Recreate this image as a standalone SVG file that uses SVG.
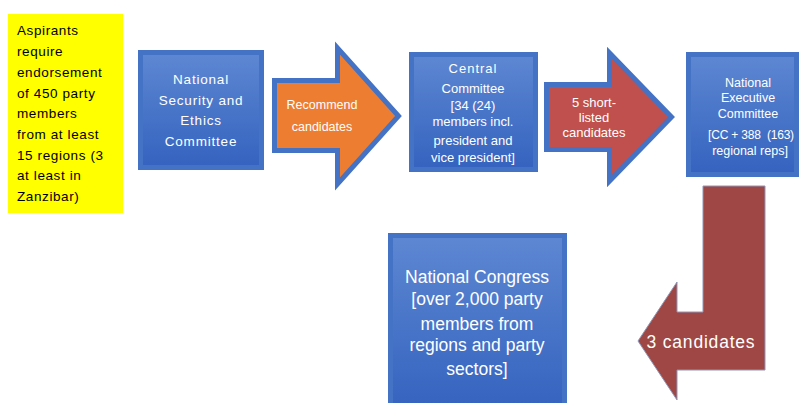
<svg xmlns="http://www.w3.org/2000/svg" width="803" height="403" viewBox="0 0 803 403">
<defs>
<linearGradient id="bg" x1="0" y1="0" x2="0" y2="1">
<stop offset="0" stop-color="#5D87D2"/>
<stop offset="1" stop-color="#3563BF"/>
</linearGradient>
<style>
.box{fill:#4472C4}
.inner{fill:url(#bg)}
.t{font-family:"Liberation Sans",Arial,sans-serif;fill:#fff;text-anchor:middle}
.y{font-family:"Liberation Sans",Arial,sans-serif;fill:#000;font-size:13.5px;letter-spacing:0.6px}
.arr{stroke:#4472C4;stroke-width:5;stroke-linejoin:miter}
</style>
</defs>
<rect width="803" height="403" fill="#fff"/>
<g id="aspirants">
<rect x="8" y="14" width="115" height="199" fill="#FFFF00"/>
<text class="y" x="17" y="35">Aspirants</text>
<text class="y" x="17" y="56">require</text>
<text class="y" x="17" y="77">endorsement</text>
<text class="y" x="17" y="98">of 450 party</text>
<text class="y" x="17" y="118">members</text>
<text class="y" x="17" y="139">from at least</text>
<text class="y" x="17" y="160">15 regions (3</text>
<text class="y" x="17" y="180">at least in</text>
<text class="y" x="17" y="201">Zanzibar)</text>
</g>
<g id="nsec">
<rect class="box" x="138" y="50" width="126" height="120"/>
<rect class="inner" x="143" y="55" width="116" height="110"/>
<g class="t" font-size="13.5" letter-spacing="0.8">
<text x="201" y="84">National</text>
<text x="201" y="105">Security and</text>
<text x="201" y="125">Ethics</text>
<text x="201" y="146">Committee</text>
</g>
</g>
<g id="connectors">
<g id="recommend">
<path class="arr" fill="#ED7D31" d="M274.5,80.5 L337.5,80.5 L337.5,48 L398.5,116 L337.5,184 L337.5,150.5 L274.5,150.5 Z"/>
<g class="t" font-size="12.5">
<text x="322" y="109">Recommend</text>
<text x="322" y="131">candidates</text>
</g>
</g>
<g id="shortlist">
<path class="arr" fill="#C0504D" d="M546.5,84.5 L609.5,84.5 L609.5,53 L671.5,117 L609.5,181 L609.5,149.5 L546.5,149.5 Z"/>
<g class="t" font-size="13">
<text x="594" y="107">5 short-</text>
<text x="594" y="122">listed</text>
<text x="594" y="137">candidates</text>
</g>
</g>
<g id="three">
<path fill="#9E4744" stroke="#8E96B8" stroke-width="1" d="M703,186 L765,186 L765,370 L677,370 L677,400 L638,341 L677,282 L677,312 L703,312 Z"/>
<text class="t" x="701" y="348" font-size="17.5" letter-spacing="0.8">3 candidates</text>
</g>
</g>
<g id="central">
<rect class="box" x="409" y="52" width="129" height="120"/>
<rect class="inner" x="414" y="57" width="119" height="110"/>
<g class="t" font-size="13">
<text x="473" y="73" letter-spacing="1">Central</text>
<text x="473" y="93">Committee</text>
<text x="473" y="110">[34 (24)</text>
<text x="473" y="126">members incl.</text>
<text x="473" y="145">president and</text>
<text x="473" y="162">vice president]</text>
</g>
</g>
<g id="nec">
<rect class="box" x="686" y="52" width="113" height="125"/>
<rect class="inner" x="691" y="57" width="103" height="115"/>
<g class="t" font-size="12.5">
<text x="748" y="87">National</text>
<text x="748" y="102">Executive</text>
<text x="748" y="118">Committee</text>
<text x="751" y="139" font-size="12" letter-spacing="-0.2" style="white-space:pre">[CC + 388  (163)</text>
<text x="750" y="155">regional reps]</text>
</g>
</g>
<g id="congress">
<rect class="box" x="388" y="233" width="179" height="175"/>
<rect class="inner" x="393" y="238" width="169" height="170"/>
<g class="t" font-size="17.5">
<text x="477" y="283">National Congress</text>
<text x="477" y="305">[over 2,000 party</text>
<text x="477" y="330">members from</text>
<text x="477" y="351">regions and party</text>
<text x="477" y="375">sectors]</text>
</g>
</g>
</svg>
